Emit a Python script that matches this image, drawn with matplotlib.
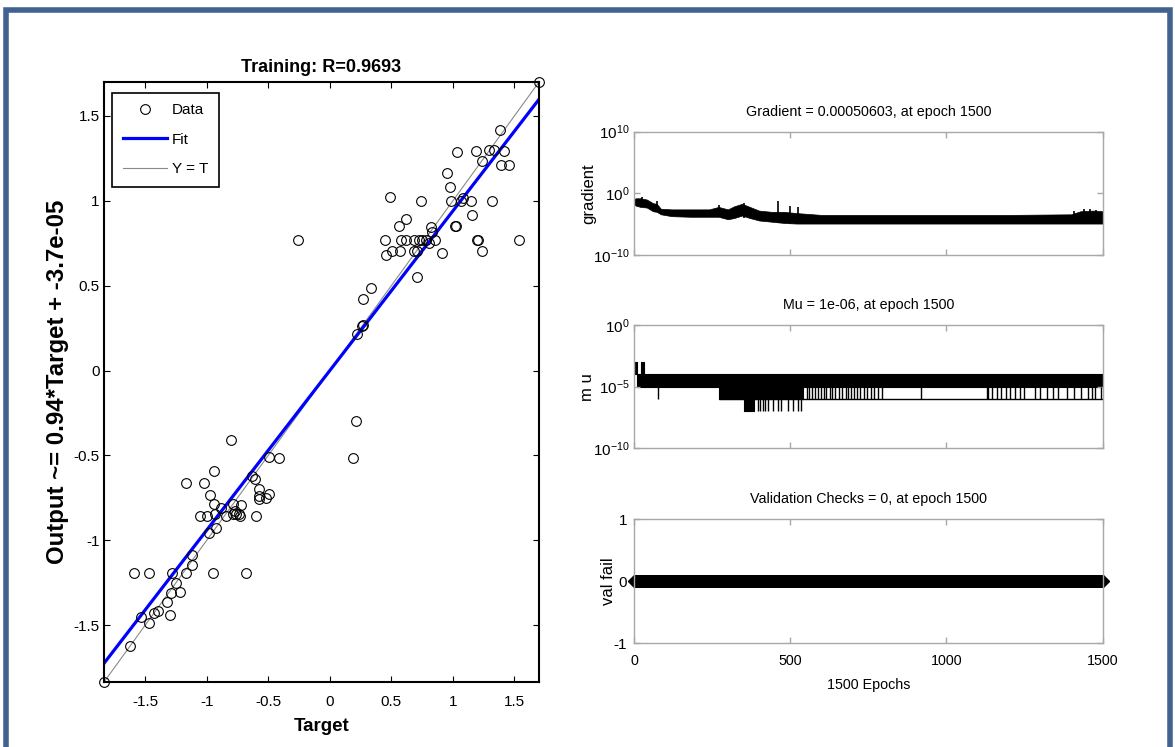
import numpy as np
import matplotlib
matplotlib.use('Agg')
import matplotlib.pyplot as plt
from matplotlib.patches import Rectangle
from matplotlib.lines import Line2D

plt.rcParams['font.family'] = ['Liberation Sans', 'DejaVu Sans']
plt.rcParams['axes.unicode_minus'] = False
plt.rcParams['mathtext.fontset'] = 'custom'
plt.rcParams['mathtext.rm'] = 'Liberation Sans'
plt.rcParams['mathtext.it'] = 'Liberation Sans:italic'
plt.rcParams['mathtext.bf'] = 'Liberation Sans:bold'

# ---------------- regression data ----------------
target = [-0.262, 0.488, 0.447, 0.453, 0.502, 0.561, 0.623, 0.582, 0.574, 0.623,
          0.684, 0.684, 0.739, 0.712, 0.726, 0.750, 0.712, 0.785, 0.804, 0.820,
          0.833, 0.852, 0.914, 0.954, 0.973, 0.987, 1.035, 1.019, 1.027, 1.068,
          1.081, 1.149, 1.154, 1.184, 1.197, 1.208, 1.238, 1.238, 1.291, 1.319,
          1.337, 1.383, 1.413, 1.391, 1.453, 1.534, 1.700, 0.218, 0.259, 0.267,
          0.272, 0.332,
          -1.835, -1.624, -1.591, -1.468, -1.535, -1.473, -1.427, -1.400, -1.300, -1.319,
          -1.292, -1.284, -1.246, -1.217, -1.165, -1.165, -1.122, -1.117, -1.055, -1.023,
          -0.995, -0.977, -0.982, -0.942, -0.942, -0.936, -0.950, -0.922, -0.882, -0.841,
          -0.807, -0.788, -0.788, -0.774, -0.760, -0.739, -0.726, -0.718, -0.677, -0.631,
          -0.610, -0.596, -0.578, -0.578, -0.578, -0.518, -0.497, -0.497, -0.416, 0.186,
          0.213]
output = [0.769, 1.025, 0.769, 0.680, 0.706, 0.854, 0.892, 0.769, 0.706, 0.769,
          0.769, 0.706, 0.996, 0.552, 0.769, 0.769, 0.706, 0.769, 0.754, 0.848,
          0.815, 0.769, 0.690, 1.164, 1.081, 0.996, 1.286, 0.854, 0.854, 0.996,
          1.016, 0.996, 0.917, 1.292, 0.769, 0.769, 0.706, 1.233, 1.298, 0.996,
          1.298, 1.420, 1.292, 1.209, 1.209, 0.769, 1.700, 0.213, 0.260, 0.266,
          0.424, 0.489,
          -1.835, -1.623, -1.195, -1.195, -1.450, -1.489, -1.430, -1.414, -1.440, -1.361,
          -1.312, -1.195, -1.249, -1.306, -1.195, -0.665, -1.085, -1.144, -0.858, -0.665,
          -0.858, -0.736, -0.960, -0.592, -0.785, -0.848, -1.195, -0.927, -0.809, -0.858,
          -0.408, -0.789, -0.848, -0.828, -0.848, -0.848, -0.858, -0.795, -1.195, -0.621,
          -0.641, -0.858, -0.700, -0.740, -0.759, -0.749, -0.726, -0.509, -0.517, -0.517,
          -0.300]
fit_slope = 0.94
fit_intercept = -3.7e-05
R_value = 0.9693
reg_limits = [-1.835, 1.70]
reg_ticks = [-1.5, -1, -0.5, 0, 0.5, 1, 1.5]
reg_ticklabels = ['-1.5', '-1', '-0.5', '0', '0.5', '1', '1.5']

# ---------------- training state data ----------------
epoch_max = 1500
epoch_ticks = [0, 500, 1000, 1500]
epoch_ticklabels = ['0', '500', '1000', '1500']

# gradient: envelope of the dense oscillation (log10 values)
grad_ep = [0, 5, 20, 40, 60, 72, 85, 120, 180, 240, 270, 300, 320, 345, 370,
           400, 440, 480, 520, 600, 800, 1000, 1200, 1400, 1430, 1470, 1500]
grad_hi = [-0.9, -0.8, -0.8, -1.0, -1.6, -1.7, -2.5, -2.6, -2.6, -2.6, -2.2, -2.6, -2.1, -1.7, -2.2,
           -2.8, -3.0, -3.0, -3.2, -3.5, -3.5, -3.5, -3.5, -3.4, -2.9, -2.8, -2.9]
grad_lo = [-1.8, -2.0, -2.2, -2.3, -2.9, -3.0, -3.4, -3.7, -3.8, -3.8, -3.8, -4.2, -4.0, -3.6, -4.0,
           -4.4, -4.6, -4.8, -4.9, -4.9, -4.9, -4.9, -4.9, -4.9, -4.9, -4.9, -4.9]
grad_spike_ep = [0, 25, 72, 270, 352, 459, 498, 525, 1410, 1440, 1460, 1480]
grad_spike_top = [1.5, -0.6, -1.2, -1.9, -1.6, -1.2, -2.1, -2.2, -2.8, -2.6, -2.6, -2.7]
grad_spike_bot = [-1.8, -2.2, -3.0, -3.8, -4.0, -4.8, -4.9, -4.9, -4.9, -4.9, -4.9, -4.9]

# mu: step envelope (log10 values)
mu_ep = [0, 10, 20, 31, 271, 352, 384, 540, 1500]
mu_hi = [-3.0, -4.0, -3.0, -4.0, -4.0, -4.0, -4.0, -4.0, -4.0]
mu_lo = [-4.0, -5.0, -5.0, -5.0, -6.0, -7.0, -6.0, -5.0, -5.0]
mu_spike7_ep = [395, 403, 411, 419, 427, 443, 459, 470, 491, 507, 523, 534]
mu_spike6_ep = [77, 552, 560, 569, 580, 590, 598, 607, 615, 626, 634, 643, 655, 666, 677, 686,
                695, 704, 712, 723, 735, 746, 757, 769, 780, 792, 917, 1129, 1134, 1146,
                1163, 1174, 1192, 1203, 1220, 1237, 1249, 1283, 1300, 1323, 1340, 1357,
                1386, 1409, 1431, 1454, 1466, 1477, 1494]

# validation checks: zero at every epoch
val_epochs = np.arange(0, epoch_max + 1, 3)
val_fail = np.zeros(len(val_epochs))

# ---------------- figure ----------------
W, H = 1175, 747
fig = plt.figure(figsize=(W / 100, H / 100), dpi=100)


def fr(x0, y_top, x1, y_bot):
    return [x0 / W, 1 - y_bot / H, (x1 - x0) / W, (y_bot - y_top) / H]


# frame
fig.add_artist(Rectangle((6.0 / W, -0.05), (1170 - 6.0) / W, 1 - 9.5 / H + 0.05,
                         transform=fig.transFigure, fill=False,
                         edgecolor='#41618f', lw=4, zorder=10))

# ---- regression axes ----
ax = fig.add_axes(fr(104, 82, 539, 682))
ax.plot(reg_limits, reg_limits, color='#8a8a8a', lw=0.8, zorder=1)
fit_y = [fit_slope * v + fit_intercept for v in reg_limits]
ax.plot(reg_limits, fit_y, color='#0000ff', lw=2.3, zorder=2)
ax.plot(target, output, 'o', mfc='none', mec='black', mew=0.8, ms=7, zorder=3,
        clip_on=False)
ax.set_xlim(reg_limits)
ax.set_ylim(reg_limits)
ax.set_xticks(reg_ticks)
ax.set_xticklabels(reg_ticklabels)
ax.set_yticks(reg_ticks)
ax.set_yticklabels(reg_ticklabels)
ax.tick_params(direction='in', top=True, right=True, length=4, width=0.8,
               labelsize=11)
ax.tick_params(axis='x', pad=9)
ax.tick_params(axis='y', pad=3)
for s in ax.spines.values():
    s.set_linewidth(1.5)
ax.set_title(f'Training: R={R_value}', fontsize=13, fontweight='bold', pad=7)
ax.set_xlabel('Target', fontsize=13.5, fontweight='bold')
ax.xaxis.set_label_coords(0.5, -0.06)
ax.xaxis.label.set_va('top')
ax.set_ylabel('Output ~= 0.94*Target + -3.7e-05', fontsize=17.3, fontweight='bold')
ax.yaxis.set_label_coords(-0.080, 0.5)
handles = [Line2D([], [], ls='none', marker='o', mfc='none', mec='black', ms=7, mew=0.8),
           Line2D([], [], color='#0000ff', lw=2.3),
           Line2D([], [], color='#8a8a8a', lw=0.8)]
leg = ax.legend(handles, ['Data', 'Fit', 'Y = T'], loc='upper left',
                bbox_to_anchor=(0.018, 0.982), borderaxespad=0, fontsize=11,
                fancybox=False, framealpha=1, edgecolor='black', handlelength=2.9,
                borderpad=0.7, labelspacing=1.0, handletextpad=0.35)
leg.get_frame().set_linewidth(1.2)

# ---- training state axes ----
grey = '#a8a8a8'
state_fs = 10.3


def style_state(a):
    for s in a.spines.values():
        s.set_color(grey)
        s.set_linewidth(1.0)
    a.tick_params(direction='in', top=True, right=True, length=4, width=1,
                  color=grey, labelsize=state_fs, pad=3.5)
    a.tick_params(axis='y', labelsize=11)
    a.set_xlim(0, epoch_max)
    a.set_xticks(epoch_ticks)


# gradient
ag = fig.add_axes(fr(634.3, 131.7, 1102.5, 255))
style_state(ag)
ag.set_yscale('log')
ag.set_ylim(1e-10, 1e10)
ag.fill_between(grad_ep, 10.0 ** np.array(grad_hi), 10.0 ** np.array(grad_lo),
                color='black', lw=0.5, edgecolor='black')
ag.vlines(grad_spike_ep, 10.0 ** np.array(grad_spike_bot),
          10.0 ** np.array(grad_spike_top), color='black', lw=1.2)
ag.set_yticks([1e-10, 1e0, 1e10])
ag.set_yticklabels(['$10^{-10}$', '$10^{0}$', '$10^{10}$'])
ag.minorticks_off()
ag.set_xticklabels([])
ag.set_title('Gradient = 0.00050603, at epoch 1500', fontsize=state_fs, pad=11.5)
ag.set_ylabel('gradient', fontsize=12)
ag.yaxis.set_label_coords(-0.082, 0.5)

# mu
am = fig.add_axes(fr(634.3, 325, 1102.5, 448.3))
style_state(am)
am.set_yscale('log')
am.set_ylim(1e-10, 1e0)
am.fill_between(mu_ep, 10.0 ** np.array(mu_hi), 10.0 ** np.array(mu_lo), step='post',
                color='black', lw=0.8, edgecolor='black')
am.vlines(mu_spike7_ep, 1e-7, 1e-5, color='black', lw=1.0)
am.vlines(mu_spike6_ep, 1e-6, 1e-5, color='black', lw=1.0)
am.hlines(1e-6, 271, epoch_max, color='black', lw=1.0)
am.set_yticks([1e-10, 1e-5, 1e0])
am.set_yticklabels(['$10^{-10}$', '$10^{-5}$', '$10^{0}$'])
am.minorticks_off()
am.set_xticklabels([])
am.set_title('Mu = 1e-06, at epoch 1500', fontsize=state_fs, pad=11.5)
am.set_ylabel('m u', fontsize=12)
am.yaxis.set_label_coords(-0.085, 0.5)

# validation checks
av = fig.add_axes(fr(634.3, 519.3, 1102.5, 643.3))
style_state(av)
av.set_ylim(-1, 1)
av.plot(val_epochs, val_fail, color='black', lw=2, marker='D', ms=6.5, mfc='black',
        mec='black', clip_on=False)
av.set_yticks([-1, 0, 1])
av.set_yticklabels(['-1', '0', '1'])
av.set_xticklabels(epoch_ticklabels)
av.tick_params(axis='x', pad=8)
av.tick_params(axis='y', pad=5)
av.set_title('Validation Checks = 0, at epoch 1500', fontsize=state_fs, pad=11.5)
av.set_ylabel('val fail', fontsize=12)
av.yaxis.set_label_coords(-0.040, 0.5)
av.set_xlabel('1500 Epochs', fontsize=state_fs)
av.xaxis.set_label_coords(0.5, -0.28)
av.xaxis.label.set_va('top')

fig.savefig('out.png', dpi=100)
